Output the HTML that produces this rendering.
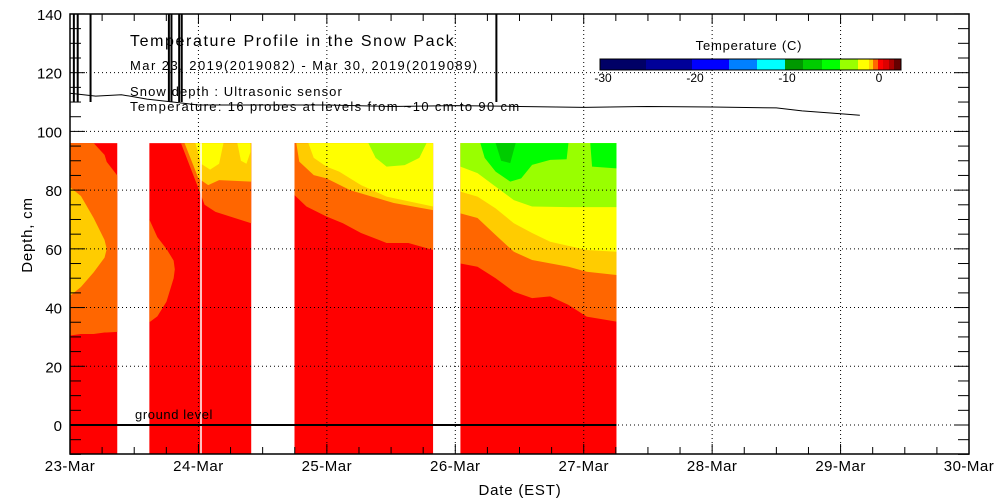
<!DOCTYPE html>
<html><head><meta charset="utf-8"><style>
html,body{margin:0;padding:0;background:#fff;width:1000px;height:500px;overflow:hidden}
svg{display:block;font-family:"Liberation Sans",sans-serif}
</style></head><body>
<svg id="chart" width="1000" height="500" viewBox="0 0 1000 500" xmlns="http://www.w3.org/2000/svg">
<g id="heat"></g>
<g id="grid"></g>
<g id="snow"></g>
<g id="axes"></g>
<g font-size="14">
<text x="130" y="46" font-size="16" letter-spacing="1.6">Temperature Profile in the Snow Pack</text>
<text x="130" y="70" font-size="13" letter-spacing="1.45">Mar 23, 2019(2019082) - Mar 30, 2019(2019089)</text>
<text x="130" y="96" font-size="13" letter-spacing="1.1">Snow depth : Ultrasonic sensor</text>
<text x="130" y="111" font-size="13" letter-spacing="1.35">Temperature: 16 probes at levels from ~10 cm to 90 cm</text>
</g>
<g id="legend">
<text x="749" y="50" font-size="13" text-anchor="middle" letter-spacing="0.8">Temperature (C)</text>
</g>
<text x="520" y="495" font-size="15" text-anchor="middle" letter-spacing="0.8">Date (EST)</text>
<text x="32" y="235" font-size="15" text-anchor="middle" letter-spacing="0.8" transform="rotate(-90 32 235)">Depth, cm</text>
</svg>
<script>
// ---- data ----
const dayLabels = ["23-Mar","24-Mar","25-Mar","26-Mar","27-Mar","28-Mar","29-Mar","30-Mar"];
const depthTicks = [0,20,40,60,80,100,120,140];
const legendColors = ["#000066","#000099","#0000ff","#0080ff","#00ffff","#009900","#00cc00","#00ff00","#99ff00","#ffff00","#ffcc00","#ff6600","#ff0000","#dd0000","#aa0000","#660000"];
const legendWidths = [46,46,37,28,28,18,19,18,18,11,4,5,5,6,5,7];
const legendTickValues = [-30,-20,-10,0];
const segStart = [0.0, 0.618, 1.748, 3.040];
const segEnd   = [0.368, 1.411, 2.827, 4.255];
const gapLineDay = 1.02;
const bands = [
 {c:"#ff6600", t:[0,0.085,0.184,0.269,0.286,0.368], lo:[30.5,31,31,31.5,31.5,31.7], hi:[96,96,96,92,89.6,85]},
 {c:"#ffcc00", t:[0,0.085,0.184,0.269,0.286,0.300], lo:[44,47,52,57,60,60], hi:[81,78,70.5,63,60,60]},
 {c:"#ff6600", t:[0.618,0.680,0.751,0.807,0.816], lo:[35,37,42,50,53], hi:[70,64,60,56,53]},
 {c:"#ff6600", t:[0.864,1.0,1.048,1.133,1.411], lo:[96,80.6,75,72.6,68.7], hi:[96,96,96,96,96]},
 {c:"#ffcc00", t:[0.892,1.0,1.076,1.161,1.411], lo:[96,84,81.7,83.4,82.9], hi:[96,96,96,96,96]},
 {c:"#ffff00", t:[0.977,1.020,1.091,1.161,1.195], lo:[96,89,87,89,96], hi:[96,96,96,96,96]},
 {c:"#ffff00", t:[1.303,1.331,1.374,1.405], lo:[96,90,89,93], hi:[96,96,96,96]},
 {c:"#ff6600", t:[1.748,1.841,1.997,2.125,2.266,2.465,2.635,2.827], lo:[78.3,74.4,71,68.7,65.4,62,62,59.6], hi:[96,96,96,96,96,96,96,96]},
 {c:"#ffcc00", t:[1.762,1.785,1.898,1.997,2.181,2.351,2.521,2.827], lo:[96,89.7,85.1,84,80,77.8,75.6,73.2], hi:[96,96,96,96,96,96,96,96]},
 {c:"#ffff00", t:[1.856,1.898,1.997,2.096,2.266,2.465,2.827], lo:[96,91,88,86.3,81.7,77.8,74.4], hi:[96,96,96,96,96,96,96]},
 {c:"#99ff00", t:[2.323,2.380,2.465,2.606,2.720,2.776], lo:[96,91,88,88.5,91,96], hi:[96,96,96,96,96,96]},
 {c:"#ff6600", t:[3.040,3.173,3.314,3.456,3.598,3.739,3.881,4.023,4.255], lo:[55,53.9,50,45.4,43.2,43.8,40.9,36.9,35.2], hi:[96,96,96,96,96,96,96,96,96]},
 {c:"#ffcc00", t:[3.040,3.173,3.314,3.456,3.598,3.881,4.023,4.255], lo:[72.1,70.5,64.7,59,56.2,53.9,52.2,51.1], hi:[96,96,96,96,96,96,96,96]},
 {c:"#ffff00", t:[3.040,3.173,3.314,3.456,3.598,3.739,4.023,4.255], lo:[79.5,77.8,73.8,68.7,65.4,62.4,59.6,59], hi:[96,96,96,96,96,96,96,96]},
 {c:"#99ff00", t:[3.040,3.173,3.314,3.456,3.598,3.881,4.255], lo:[88,85.8,81.2,76.6,74.4,74.2,74.2], hi:[96,96,96,96,96,96,96]},
 {c:"#00ff00", t:[3.195,3.229,3.314,3.428,3.513,3.598,3.739,3.867,3.881], lo:[96,91,86.3,82.9,84,88.6,90.3,90.5,96], hi:[96,96,96,96,96,96,96,96,96]},
 {c:"#00ff00", t:[4.051,4.065,4.255], lo:[96,88,87.4], hi:[96,96,96]},
 {c:"#00cc00", t:[3.314,3.357,3.428,3.470], lo:[96,90,89.2,96], hi:[96,96,96,96]}
];
const snowT = [0,0.2,0.4,0.6,0.8,1.0,1.5,2.0,2.5,3.0,3.5,4.0,4.5,5.0,5.5,5.7,6.0,6.15];
const snowD = [113,112,112.5,111,110,109,109,109,108.5,108.8,108.5,108.2,108.5,108.3,108,107,106,105.5];
const spikeT = [0.03,0.06,0.16,0.77,0.79,0.85,0.87,3.32];

const X = d => 70 + d*128.43;
const Y = v => 425 - v*2.936;
const NS = "http://www.w3.org/2000/svg";
function mk(tag, attrs, parent){const e=document.createElementNS(NS,tag);for(const k in attrs)e.setAttribute(k,attrs[k]);parent.appendChild(e);return e;}

const heat = document.getElementById('heat');
segStart.forEach((s,i)=>{
  const r = mk('rect',{x:X(s),y:Y(96),width:X(segEnd[i])-X(s),height:Y(-10)-Y(96),fill:'#ff0000'},heat);
  
  
});
bands.forEach((b,i)=>{
  let pts=[];
  for(let k=0;k<b.t.length;k++) pts.push(X(b.t[k])+','+Y(b.hi[k]));
  for(let k=b.t.length-1;k>=0;k--) pts.push(X(b.t[k])+','+Y(b.lo[k]));
  const p = mk('polygon',{points:pts.join(' '),fill:b.c},heat);
  
  
});
const gl = mk('line',{x1:X(gapLineDay),x2:X(gapLineDay),y1:Y(96),y2:Y(-10),stroke:'#fff','stroke-width':1.5},heat);



const grid = document.getElementById('grid');
depthTicks.forEach(v=>{ if(v===140) return;
  const l = mk('line',{x1:70,x2:969,y1:Y(v),y2:Y(v),stroke:'#000','stroke-dasharray':'1,3','stroke-width':1},grid);
  
  
});
dayLabels.forEach((t,i)=>{ if(i===0||i===7) return;
  const l = mk('line',{x1:X(i),x2:X(i),y1:14,y2:454,stroke:'#000','stroke-dasharray':'1,3','stroke-width':1},grid);
  
  
});
const gline = mk('line',{x1:70,x2:X(4.255),y1:Y(0),y2:Y(0),stroke:'#000','stroke-width':2},grid);


const gt = mk('text',{x:135,y:419,'font-size':13,'letter-spacing':0.6},grid); gt.textContent='ground level';



const snow = document.getElementById('snow');
const sp = mk('polyline',{points:snowT.map((t,i)=>X(t)+','+Y(snowD[i])).join(' '),fill:'none',stroke:'#000','stroke-width':1},snow);


spikeT.forEach(t=>{
  const s = mk('line',{x1:X(t),x2:X(t),y1:Y(140),y2:Y(110),stroke:'#000','stroke-width':2},snow);
  
  
});

const axes = document.getElementById('axes');
const frame = mk('rect',{x:70,y:14,width:899,height:440,fill:'none',stroke:'#000','stroke-width':1.5},axes);


for(let v=-10; v<=140; v+=5){
  const len = v%20===0?15:11;
  mk('line',{x1:70,x2:70+len,y1:Y(v),y2:Y(v),stroke:'#000'},axes);
  mk('line',{x1:969,x2:969-len,y1:Y(v),y2:Y(v),stroke:'#000'},axes);
}
depthTicks.forEach(v=>{
  const t = mk('text',{x:62,y:Y(v)+6,'font-size':15,'text-anchor':'end'},axes); t.textContent=v;
  
  
});
for(let q=0;q<=28;q++){
  const d=q/4, len = q%4===0?10:7;
  mk('line',{x1:X(d),x2:X(d),y1:454,y2:454-len,stroke:'#000'},axes);
  mk('line',{x1:X(d),x2:X(d),y1:14,y2:14+len,stroke:'#000'},axes);
}
dayLabels.forEach((t,i)=>{
  const e = mk('text',{x:X(i),y:471,'font-size':15,'text-anchor':'middle','letter-spacing':0.5},axes); e.textContent=t;
  
  
});

const lg = document.getElementById('legend');
let lx=600;
legendColors.forEach((c,i)=>{
  const r = mk('rect',{x:lx,y:59,width:legendWidths[i]+0.5,height:11,fill:c},lg);
  
  
  lx+=legendWidths[i];
});
mk('rect',{x:600,y:59,width:lx-600,height:11,fill:'none',stroke:'#000'},lg);
legendTickValues.forEach(v=>{
  const x = 879 + v*9.2;
  const t = mk('text',{x:x,y:82,'font-size':12,'text-anchor':'middle'},lg); t.textContent=v;
  
  
});
</script>
</body></html>
